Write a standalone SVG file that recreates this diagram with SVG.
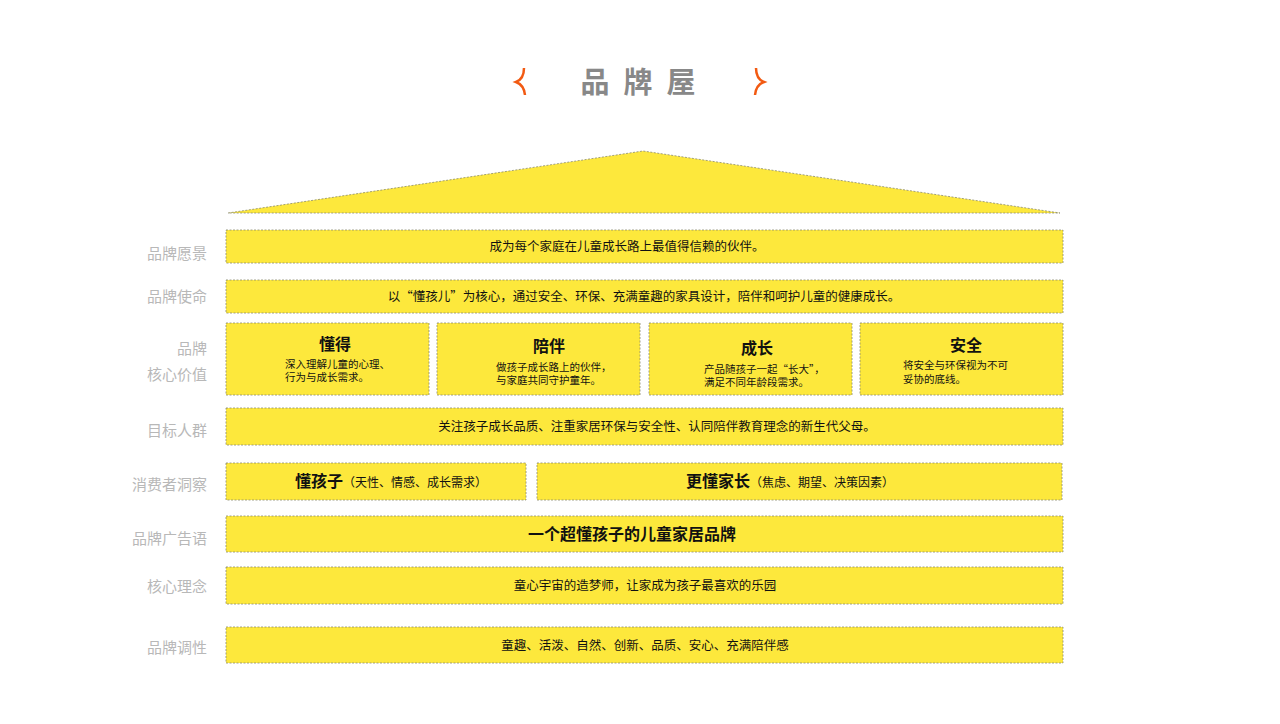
<svg xmlns="http://www.w3.org/2000/svg" width="1280" height="724" viewBox="0 0 1280 724">
<style>
.b{fill:#fde83c;stroke:#8a8a70;stroke-width:0.8;stroke-dasharray:2 1.5}
.l{font-family:"Noto Sans CJK SC",sans-serif;font-size:15px;fill:#b8b8b8;text-anchor:end}
.t{font-family:"Noto Sans CJK SC",sans-serif;font-size:12.5px;fill:#111;text-anchor:middle}
.h{font-family:"Noto Sans CJK SC",sans-serif;font-size:16px;font-weight:bold;fill:#111;text-anchor:middle}
.s{font-family:"Noto Sans CJK SC",sans-serif;font-size:10.5px;fill:#111}
</style>
<rect width="1280" height="724" fill="#fff"/>
<g id="title">
<path d="M524,68 Q524,79 516,82 Q524,85 525,95" fill="none" stroke="#f25a12" stroke-width="2.5"/>
<path d="M756,68 Q756,79 764,82 Q756,85 755,95" fill="none" stroke="#f25a12" stroke-width="2.5"/>
<text x="645" y="93" font-family="Noto Sans CJK SC,sans-serif" font-size="29" font-weight="bold" fill="#888" text-anchor="middle" letter-spacing="14">品牌屋</text>
</g>
<g id="roof"><polygon class="b" points="228,213 643,151 1060,213"/></g>
<g id="labels">
<text class="l" x="207" y="259">品牌愿景</text>
<text class="l" x="207" y="302">品牌使命</text>
<text class="l" x="207" y="354">品牌</text>
<text class="l" x="207" y="380">核心价值</text>
<text class="l" x="207" y="436">目标人群</text>
<text class="l" x="207" y="490">消费者洞察</text>
<text class="l" x="207" y="544">品牌广告语</text>
<text class="l" x="207" y="592">核心理念</text>
<text class="l" x="207" y="653">品牌调性</text>
</g>
<g id="vision"><rect class="b" x="226" y="230" width="837" height="33"/><text class="t" x="627" y="251">成为每个家庭在儿童成长路上最值得信赖的伙伴。</text></g>
<g id="mission"><rect class="b" x="226" y="280" width="837" height="33"/><text class="t" x="644" y="301">以“懂孩儿”为核心，通过安全、环保、充满童趣的家具设计，陪伴和呵护儿童的健康成长。</text></g>
<g id="v1"><rect class="b" x="226" y="323" width="203" height="72"/><text class="h" x="335" y="350">懂得</text><text class="s" x="285" y="368">深入理解儿童的心理、</text><text class="s" x="285" y="381">行为与成长需求。</text></g>
<g id="v2"><rect class="b" x="437" y="323" width="203" height="72"/><text class="h" x="549" y="352">陪伴</text><text class="s" x="496" y="371">做孩子成长路上的伙伴，</text><text class="s" x="496" y="384">与家庭共同守护童年。</text></g>
<g id="v3"><rect class="b" x="649" y="323" width="203" height="72"/><text class="h" x="757" y="354">成长</text><text class="s" x="704" y="373">产品随孩子一起“长大”，</text><text class="s" x="704" y="386">满足不同年龄段需求。</text></g>
<g id="v4"><rect class="b" x="860" y="323" width="203" height="72"/><text class="h" x="966" y="351">安全</text><text class="s" x="903" y="369">将安全与环保视为不可</text><text class="s" x="903" y="383">妥协的底线。</text></g>
<g id="target"><rect class="b" x="226" y="408" width="837" height="37"/><text class="t" x="657" y="431">关注孩子成长品质、注重家居环保与安全性、认同陪伴教育理念的新生代父母。</text></g>
<g id="insight1"><rect class="b" x="226" y="463" width="300" height="37"/><text x="391" y="487" text-anchor="middle" font-family="Noto Sans CJK SC,sans-serif" fill="#111"><tspan font-size="16" font-weight="bold">懂孩子</tspan><tspan font-size="12">（天性、情感、成长需求）</tspan></text></g>
<g id="insight2"><rect class="b" x="537" y="463" width="525" height="37"/><text x="790" y="487" text-anchor="middle" font-family="Noto Sans CJK SC,sans-serif" fill="#111"><tspan font-size="16" font-weight="bold">更懂家长</tspan><tspan font-size="12">（焦虑、期望、决策因素）</tspan></text></g>
<g id="slogan"><rect class="b" x="226" y="516" width="837" height="36"/><text x="632" y="540" text-anchor="middle" font-family="Noto Sans CJK SC,sans-serif" font-size="16" font-weight="bold" fill="#111">一个超懂孩子的儿童家居品牌</text></g>
<g id="concept"><rect class="b" x="226" y="567" width="837" height="37"/><text class="t" x="645" y="590">童心宇宙的造梦师，让家成为孩子最喜欢的乐园</text></g>
<g id="tone"><rect class="b" x="226" y="627" width="837" height="36"/><text class="t" x="645" y="650">童趣、活泼、自然、创新、品质、安心、充满陪伴感</text></g>
<g id="connectors"/>
</svg>
